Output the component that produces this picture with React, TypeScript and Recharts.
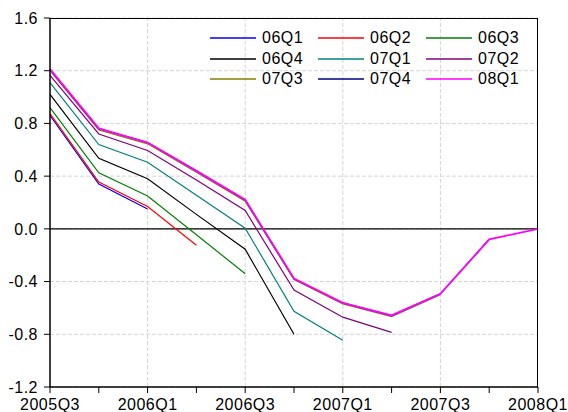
import React from "react";
import {
  LineChart,
  Line,
  XAxis,
  YAxis,
  CartesianGrid,
  ReferenceLine,
} from "recharts";

const QUARTERS = [
  "2005Q3", "2005Q4", "2006Q1", "2006Q2", "2006Q3", "2006Q4",
  "2007Q1", "2007Q2", "2007Q3", "2007Q4", "2008Q1",
];

const Y_TICKS = [-1.2, -0.8, -0.4, 0.0, 0.4, 0.8, 1.2, 1.6];

// forecast vintages, each one ends at its own quarter
const S06Q1 = [0.86, 0.34, 0.15];
const S06Q2 = [0.875, 0.355, 0.17, -0.125];
const S06Q3 = [0.92, 0.425, 0.25, -0.045, -0.34];
const S06Q4 = [1.02, 0.535, 0.38, 0.11, -0.155, -0.8];
const S07Q1 = [1.11, 0.64, 0.505, 0.255, 0.005, -0.625, -0.845];
const S07Q2 = [1.165, 0.72, 0.595, 0.37, 0.14, -0.465, -0.67, -0.785];
const S07Q3 = [1.2, 0.75, 0.645, 0.43, 0.21, -0.385, -0.57, -0.665, -0.5];
const S07Q4 = [1.21, 0.76, 0.655, 0.44, 0.22, -0.378, -0.562, -0.658, -0.493, -0.08];
const S08Q1 = [1.212, 0.762, 0.655, 0.44, 0.222, -0.378, -0.561, -0.657, -0.493, -0.08, 0.0];

const SERIES = [
  { key: "06Q1", values: S06Q1, color: "#0000ff" },
  { key: "06Q2", values: S06Q2, color: "#ff0000" },
  { key: "06Q3", values: S06Q3, color: "#008000" },
  { key: "06Q4", values: S06Q4, color: "#000000" },
  { key: "07Q1", values: S07Q1, color: "#008080" },
  { key: "07Q2", values: S07Q2, color: "#800080" },
  { key: "07Q3", values: S07Q3, color: "#808000" },
  { key: "07Q4", values: S07Q4, color: "#000080" },
  { key: "08Q1", values: S08Q1, color: "#ff00ff" },
];

const data = QUARTERS.map((q, i) => {
  const row: Record<string, any> = { q };
  SERIES.forEach((s) => {
    row[s.key] = i < s.values.length ? s.values[i] : null;
  });
  return row;
});

const FONT = "Arial, 'Liberation Sans', sans-serif";

const XTick = (props: any) => {
  const { x, y, index, payload } = props;
  if (index % 2 !== 0) return <g />;
  return (
    <text x={x} y={y} dy="0.71em" textAnchor="middle" fontSize={16}
      fontFamily={FONT} fill="#000" letterSpacing={0.5}>
      {payload.value}
    </text>
  );
};

const LegendBox = () => (
  <div style={{
    position: "absolute",
    left: 210,
    top: 28,
    display: "grid",
    gridTemplateColumns: "108px 108px 108px",
    fontFamily: FONT,
    fontSize: 16,
    letterSpacing: 0.5,
    lineHeight: "20.5px",
  }}>
    {SERIES.map((s) => (
      <div key={s.key} style={{ display: "flex", alignItems: "center", height: 20.5 }}>
        <svg width={46} height={4} style={{ marginRight: 6 }}>
          <line x1={0} x2={46} y1={2} y2={2} stroke={s.color} strokeWidth={1.5} />
        </svg>
        <span>{s.key}</span>
      </div>
    ))}
  </div>
);

export default function App() {
  return (
    <div style={{ position: "absolute", left: 0, top: 0, width: 568, height: 412, background: "#fff" }}>
      <LineChart width={568} height={412} data={data}
        margin={{ top: 18, right: 30, left: 0, bottom: 0 }}>
        <CartesianGrid vertical={false} stroke="#d4d4d4" strokeDasharray="4 2" />
        {QUARTERS.filter((_, i) => i % 2 === 0 && i > 0 && i < QUARTERS.length - 1).map((q) => (
          <ReferenceLine key={q} x={q} stroke="#d4d4d4" strokeDasharray="4 2" />
        ))}
        <ReferenceLine y={0} stroke="#000" strokeWidth={1.2} />
        <XAxis dataKey="q" interval={0} tick={<XTick />} tickSize={6} tickMargin={6}
          height={25} axisLine={{ stroke: "#000", strokeWidth: 1.5 }}
          tickLine={{ stroke: "#000" }} />
        <YAxis domain={[-1.2, 1.6]} ticks={Y_TICKS} width={50} tickSize={6} tickMargin={6}
          tickFormatter={(v: number) => v.toFixed(1)}
          tick={{ fontSize: 16, fontFamily: FONT, fill: "#000", letterSpacing: 0.5 }}
          axisLine={{ stroke: "#000", strokeWidth: 1.5 }} tickLine={{ stroke: "#000" }} />
        {SERIES.map((s) => (
          <Line key={s.key} dataKey={s.key} stroke={s.color} dot={false}
            strokeWidth={s.key === "08Q1" ? 1.8 : 1.2} isAnimationActive={false} />
        ))}
      </LineChart>
      {/* plot frame (top and right edges) */}
      <div style={{
        position: "absolute", left: 50, top: 18, width: 488, height: 369,
        boxSizing: "border-box", borderTop: "1.5px solid #000", borderRight: "1.5px solid #000",
        pointerEvents: "none",
      }} />
      <LegendBox />
    </div>
  );
}
